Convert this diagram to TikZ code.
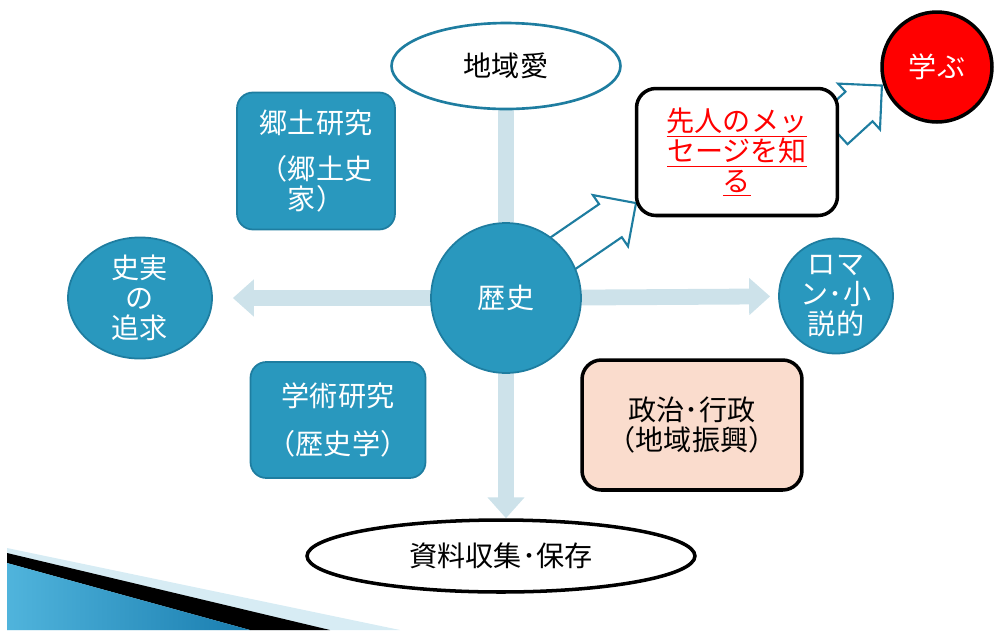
\documentclass[tikz,border=0pt]{standalone}
\usepackage{fontspec}
\setmainfont{Noto Sans CJK JP}
\usetikzlibrary{arrows.meta,calc,shapes.geometric,shapes.arrows,backgrounds}
\definecolor{rekiblue}{RGB}{41,152,190}
\definecolor{rekiedge}{RGB}{30,125,160}
\definecolor{axisgray}{RGB}{205,226,234}
\definecolor{peach}{RGB}{250,220,205}
\definecolor{paleblue}{RGB}{215,236,244}
\definecolor{deepblue}{RGB}{25,125,175}
\definecolor{lightblue}{RGB}{80,180,220}

\begin{document}
\begin{tikzpicture}[x=0.02cm, y=-0.02cm,
          font=\fontsize{16}{17}\selectfont,
          tealbox/.style={draw=rekiedge, line width=1pt, rounded corners=9pt,
                          fill=rekiblue, text=white, align=center, inner sep=2pt},
          tealoval/.style={ellipse, draw=rekiedge, line width=1pt,
                           fill=rekiblue, text=white, align=center, inner sep=0pt},
          blackbox/.style={draw=black, line width=2pt, rounded corners=11pt, align=center},
          oval/.style={ellipse, fill=white, align=center, inner sep=0pt},
          axisline/.style={axisgray, line width=9pt, -{Triangle[width=0.72cm, length=0.42cm]}},
          blockarr/.style={single arrow, draw=rekiedge, line width=1.2pt, fill=white,
                           inner sep=0.38cm, single arrow head extend=0.22cm}
        ]
          \useasboundingbox (0,0) rectangle (995,630);
          \node[oval, draw=rekiedge, line width=1.5pt, minimum width=4.58cm, minimum height=1.72cm]
               (love) at (506,66) {地域愛};
          \node[circle, draw=rekiedge, line width=1pt, fill=rekiblue, text=white, minimum size=3cm]
               (hist) at (506,298) {歴史};
          \node[tealbox, minimum width=3.16cm, minimum height=2.74cm]
               (local) at (316,161) {郷土研究\\[9pt]（郷土史\\家）};
          \node[tealbox, minimum width=3.5cm, minimum height=2.32cm]
               (acad) at (338,420) {学術研究\\[10pt]（歴史学）};
          \node[tealoval, minimum width=2.88cm, minimum height=2.26cm]
               (fact) at (140,298) {史実\\の\\追求};
          \node[tealoval, minimum width=2.28cm, minimum height=2.16cm]
               (roman) at (836,296) {ロマ\\ン･小\\説的};
          \node[blackbox, fill=peach, minimum width=4.4cm, minimum height=2.6cm]
               (policy) at (692,425) {政治･行政\\（地域振興）};
          \node[blackbox, fill=white, text=red, minimum width=4.02cm, minimum height=2.54cm]
               (msg) at (737,152) {\underline{先人のメッ}\\\underline{セージを知}\\\underline{る}};
          \node[circle, draw=black, line width=2pt, fill=red, text=white, minimum size=2.2cm]
               (learn) at (937,67) {学ぶ};
          \node[oval, draw=black, line width=2pt, minimum width=7.76cm, minimum height=1.44cm]
               (archive) at (501,556) {資料収集･保存};
          \begin{scope}[on background layer]
            \fill[paleblue] (7,548) -- (400,630) -- (7,630) -- cycle;
            \fill[black] (7,553) -- (330,630) -- (250,630) -- (7,563) -- cycle;
            \shade[left color=lightblue, right color=deepblue] (7,563) -- (250,630) -- (7,630) -- cycle;
            \draw[axisgray, line width=9pt] (hist) -- (love);
            \draw[axisline, shorten >=0.4cm] (hist) -- (fact);
            \draw[axisline, shorten >=0.16cm] (hist) -- (roman);
            \draw[axisline] (hist) -- (hist |- archive.north);
            \path (hist.38) -- ($(msg.south west)+(0.05cm,0.3cm)$)
                  node[pos=1, sloped, anchor=tip, blockarr, minimum height=1.9cm] (toMsg) {};
            \path (msg.15) -- (learn.198)
                  node[pos=1, sloped, anchor=tip, blockarr, minimum height=1.3cm] (toLearn) {};
          \end{scope}
        \end{tikzpicture}
\end{document}
